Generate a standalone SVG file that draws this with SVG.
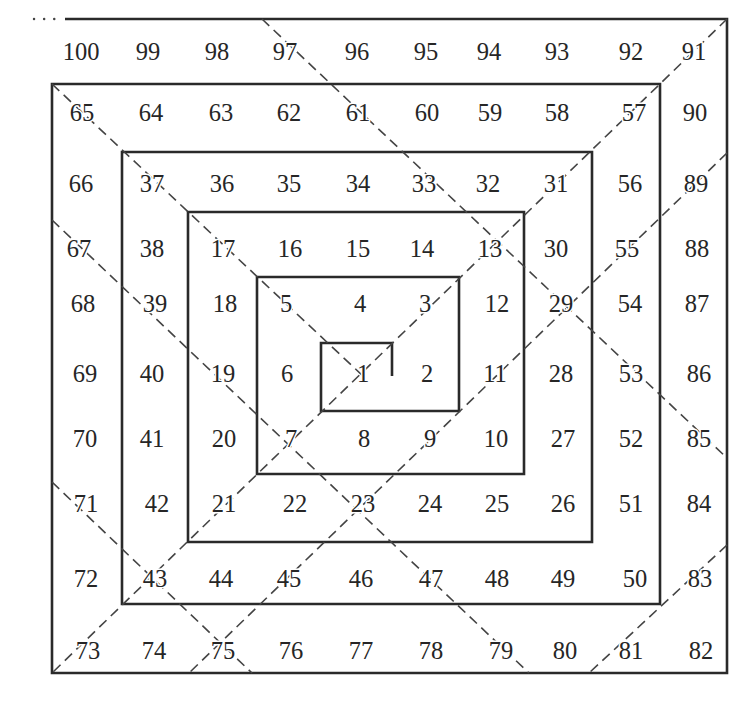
<svg xmlns="http://www.w3.org/2000/svg" width="754" height="701" viewBox="0 0 754 701">
<style>
.sp{fill:none;stroke:#2a2a2a;stroke-width:2.6;stroke-linejoin:miter}
.dg{fill:none;stroke:#444;stroke-width:1.6;stroke-dasharray:10 6}
.dots{fill:none;stroke:#444;stroke-width:2.4;stroke-dasharray:0.1 10;stroke-linecap:round}
text{font-family:"Liberation Serif","Times New Roman",serif;font-size:24.5px;fill:#262626;text-anchor:middle;stroke:#fff;stroke-width:3;paint-order:stroke;stroke-linejoin:round}
</style>
<rect width="754" height="701" fill="#fff"/>
<g id="spiral">
<path class="sp" d="M392,376 L392,343 L321,343 L321,411 L459,411 L459,277 L257,277 L257,474 L524,474 L524,212 L188,212 L188,542 L592,542 L592,152 L122,152 L122,604 L660,604 L660,84 L52,84 L52,673 L727,673 L727,19 L65,19"/>
<path class="dots" d="M34,19 L56,19"/>
</g>
<g id="connectors">
<path class="dg" d="M727,19 L52,673"/>
<path class="dg" d="M52,84 L363,376"/>
<path class="dg" d="M262,19 L727,458"/>
<path class="dg" d="M52,220 L529,673"/>
<path class="dg" d="M52,482 L252,673"/>
<path class="dg" d="M727,153 L189,673"/>
<path class="dg" d="M727,545 L589,673"/>
</g>
<g id="labels">
<g id="row1"><text x="81" y="60">100</text><text x="148" y="60">99</text><text x="217" y="60">98</text><text x="285" y="60">97</text><text x="357" y="60">96</text><text x="426" y="60">95</text><text x="489" y="60">94</text><text x="557" y="60">93</text><text x="631" y="60">92</text><text x="694" y="60">91</text></g>
<g id="row2"><text x="82" y="121">65</text><text x="151" y="121">64</text><text x="221" y="121">63</text><text x="289" y="121">62</text><text x="358" y="121">61</text><text x="427" y="121">60</text><text x="490" y="121">59</text><text x="557" y="121">58</text><text x="634" y="121">57</text><text x="695" y="121">90</text></g>
<g id="row3"><text x="81" y="192">66</text><text x="152" y="192">37</text><text x="222" y="192">36</text><text x="289" y="192">35</text><text x="358" y="192">34</text><text x="424" y="192">33</text><text x="488" y="192">32</text><text x="556" y="192">31</text><text x="630" y="192">56</text><text x="696" y="192">89</text></g>
<g id="row4"><text x="79" y="257">67</text><text x="152" y="257">38</text><text x="223" y="257">17</text><text x="290" y="257">16</text><text x="358" y="257">15</text><text x="422" y="257">14</text><text x="490" y="257">13</text><text x="556" y="257">30</text><text x="627" y="257">55</text><text x="697" y="257">88</text></g>
<g id="row5"><text x="83" y="312">68</text><text x="155" y="312">39</text><text x="225" y="312">18</text><text x="286" y="312">5</text><text x="360" y="312">4</text><text x="425" y="312">3</text><text x="497" y="312">12</text><text x="561" y="312">29</text><text x="630" y="312">54</text><text x="697" y="312">87</text></g>
<g id="row6"><text x="85" y="382">69</text><text x="152" y="382">40</text><text x="223" y="382">19</text><text x="287" y="382">6</text><text x="363" y="382">1</text><text x="427" y="382">2</text><text x="495" y="382">11</text><text x="561" y="382">28</text><text x="631" y="382">53</text><text x="699" y="382">86</text></g>
<g id="row7"><text x="85" y="447">70</text><text x="152" y="447">41</text><text x="224" y="447">20</text><text x="291" y="447">7</text><text x="364" y="447">8</text><text x="430" y="447">9</text><text x="496" y="447">10</text><text x="563" y="447">27</text><text x="631" y="447">52</text><text x="699" y="447">85</text></g>
<g id="row8"><text x="86" y="512">71</text><text x="157" y="512">42</text><text x="224" y="512">21</text><text x="295" y="512">22</text><text x="363" y="512">23</text><text x="430" y="512">24</text><text x="497" y="512">25</text><text x="563" y="512">26</text><text x="631" y="512">51</text><text x="699" y="512">84</text></g>
<g id="row9"><text x="86" y="587">72</text><text x="155" y="587">43</text><text x="221" y="587">44</text><text x="289" y="587">45</text><text x="361" y="587">46</text><text x="431" y="587">47</text><text x="497" y="587">48</text><text x="563" y="587">49</text><text x="635" y="587">50</text><text x="700" y="587">83</text></g>
<g id="row10"><text x="88" y="659">73</text><text x="154" y="659">74</text><text x="223" y="659">75</text><text x="291" y="659">76</text><text x="361" y="659">77</text><text x="431" y="659">78</text><text x="501" y="659">79</text><text x="565" y="659">80</text><text x="631" y="659">81</text><text x="701" y="659">82</text></g>
</g>
</svg>
